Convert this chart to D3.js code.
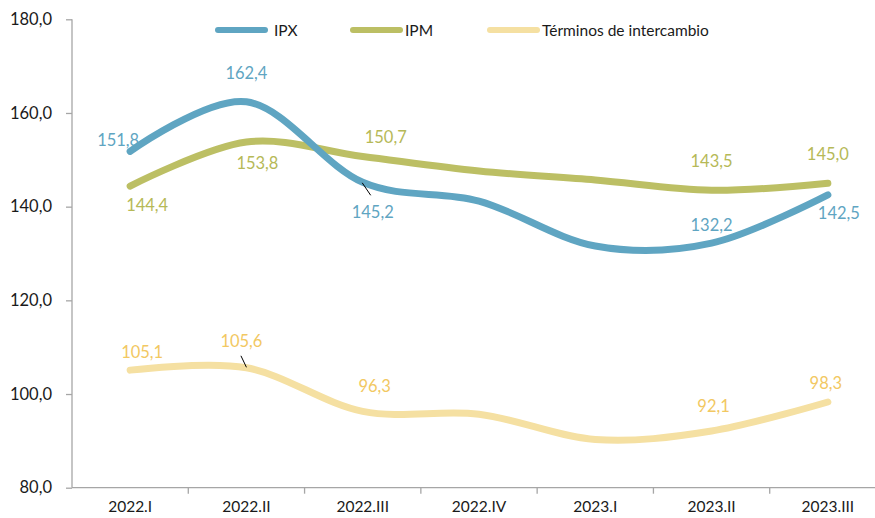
<!DOCTYPE html>
<html><head><meta charset="utf-8">
<script src="https://cdn.jsdelivr.net/npm/d3@7"></script>
<style>
html,body{margin:0;padding:0;background:#fff;}
svg{display:block;font-family:Lato,"Open Sans",sans-serif;}
</style></head>
<body><svg id="chart" width="875" height="518"></svg>
<script>
const categories = ["2022.I","2022.II","2022.III","2022.IV","2023.I","2023.II","2023.III"];
const ipx = [151.8,162.4,145.2,141.2,131.6,132.2,142.5];
const ipm = [144.4,153.8,150.7,147.6,145.7,143.5,145.0];
const terminos = [105.1,105.6,96.3,95.7,90.3,92.1,98.3];
const yTicks = [80,100,120,140,160,180];
const seriesNames = ["IPX","IPM","Términos de intercambio"];
// which points carry a label (null = no label)
const ipxLabels = [151.8,162.4,145.2,null,null,132.2,142.5];
const ipmLabels = [144.4,153.8,150.7,null,null,143.5,145.0];
const terLabels = [105.1,105.6,96.3,null,null,92.1,98.3];

const svg = d3.select("#chart");
const x = d3.scaleBand().domain(categories).range([72,886]);
const y = d3.scaleLinear().domain([80,180]).range([487.7,19.3]);
const fmt = v => d3.format(".1f")(v).replace(".", ",");
const cx = c => x(c) + x.bandwidth()/2;

// axes
const yAxis = svg.append("g").attr("transform","translate(72,0)")
  .call(d3.axisLeft(y).tickValues(yTicks).tickFormat(fmt).tickSize(6).tickPadding(14));
const xAxis = svg.append("g").attr("transform","translate(0,487.7)")
  .call(d3.axisBottom(x).tickSize(0).tickPadding(13));
// x tick marks at band boundaries
xAxis.selectAll(".bt").data(categories.slice(1)).enter().append("line")
  .attr("x1",d=>x(d)).attr("x2",d=>x(d)).attr("y1",0).attr("y2",6);
[yAxis,xAxis].forEach(g=>{
  g.selectAll("path,line").attr("stroke","#a6a6a6").attr("stroke-width",1.3);
  g.selectAll("text").attr("fill","#1a1a1a").style("font-size","16.5px").style("font-family","Lato, sans-serif");
});
xAxis.selectAll("text").style("font-size","15.5px");
xAxis.select(".domain").attr("d","M72,0H886");
yAxis.select(".domain").attr("d","M0,487.7V19.3");

const series = [
  {name:seriesNames[0], values:ipx, labels:ipxLabels, color:"#5fa5c2", lab:"#5fa5c2"},
  {name:seriesNames[1], values:ipm, labels:ipmLabels, color:"#bcbf64", lab:"#b6b957"},
  {name:seriesNames[2], values:terminos, labels:terLabels, color:"#f5e0a2", lab:"#f2c862"}
];
const line = d3.line().x((d,i)=>cx(categories[i])).y(d=>y(d)).curve(d3.curveCardinal.tension(0));
// draw in order: terminos, ipm, ipx (ipx on top)
[series[2],series[1],series[0]].forEach(s=>{
  svg.append("path").attr("d",line(s.values)).attr("fill","none")
    .attr("stroke",s.color).attr("stroke-width",7).attr("stroke-linecap","round");
});

// label offsets (dx, dy) relative to point
const offsets = {
  IPX: [[-12,-11],[0,-29],[10,30],null,null,[0,-18],[11,18]],
  IPM: [[17,19],[11,21],[23,-20],null,null,[0,-29],[0,-29]],
  "Términos de intercambio": [[12,-18],[-5,-27],[12,-25],null,null,[2,-25],[-2,-19]]
};
series.forEach(s=>{
  s.labels.forEach((v,i)=>{
    if(v===null) return;
    const o = offsets[s.name][i];
    svg.append("text").attr("x",cx(categories[i])+o[0]).attr("y",y(s.values[i])+o[1])
      .attr("text-anchor","middle").attr("dominant-baseline","central")
      .attr("fill",s.lab).style("font-size","16.5px").text(fmt(v));
  });
});
// leader lines
svg.append("line").attr("x1",cx(categories[2])-0.5).attr("y1",y(ipx[2])+0.5)
  .attr("x2",cx(categories[2])+8).attr("y2",y(ipx[2])+13).attr("stroke","#000").attr("stroke-width",1);
svg.append("line").attr("x1",cx(categories[1])-5.5).attr("y1",y(terminos[1])-12)
  .attr("x2",cx(categories[1])).attr("y2",y(terminos[1])-0.5).attr("stroke","#000").attr("stroke-width",1);

// legend
const legendX = [218,353,490];
const lg = svg.append("g");
series.forEach((s,i)=>{
  lg.append("line").attr("x1",legendX[i]).attr("x2",legendX[i]+47).attr("y1",30).attr("y2",30)
    .attr("stroke",s.color).attr("stroke-width",6).attr("stroke-linecap","round");
  lg.append("text").attr("x",legendX[i]+(i===0?56:52)).attr("y",30).attr("dominant-baseline","central")
    .attr("fill","#1a1a1a").style("font-size","15.5px").text(s.name);
});
</script></body></html>
